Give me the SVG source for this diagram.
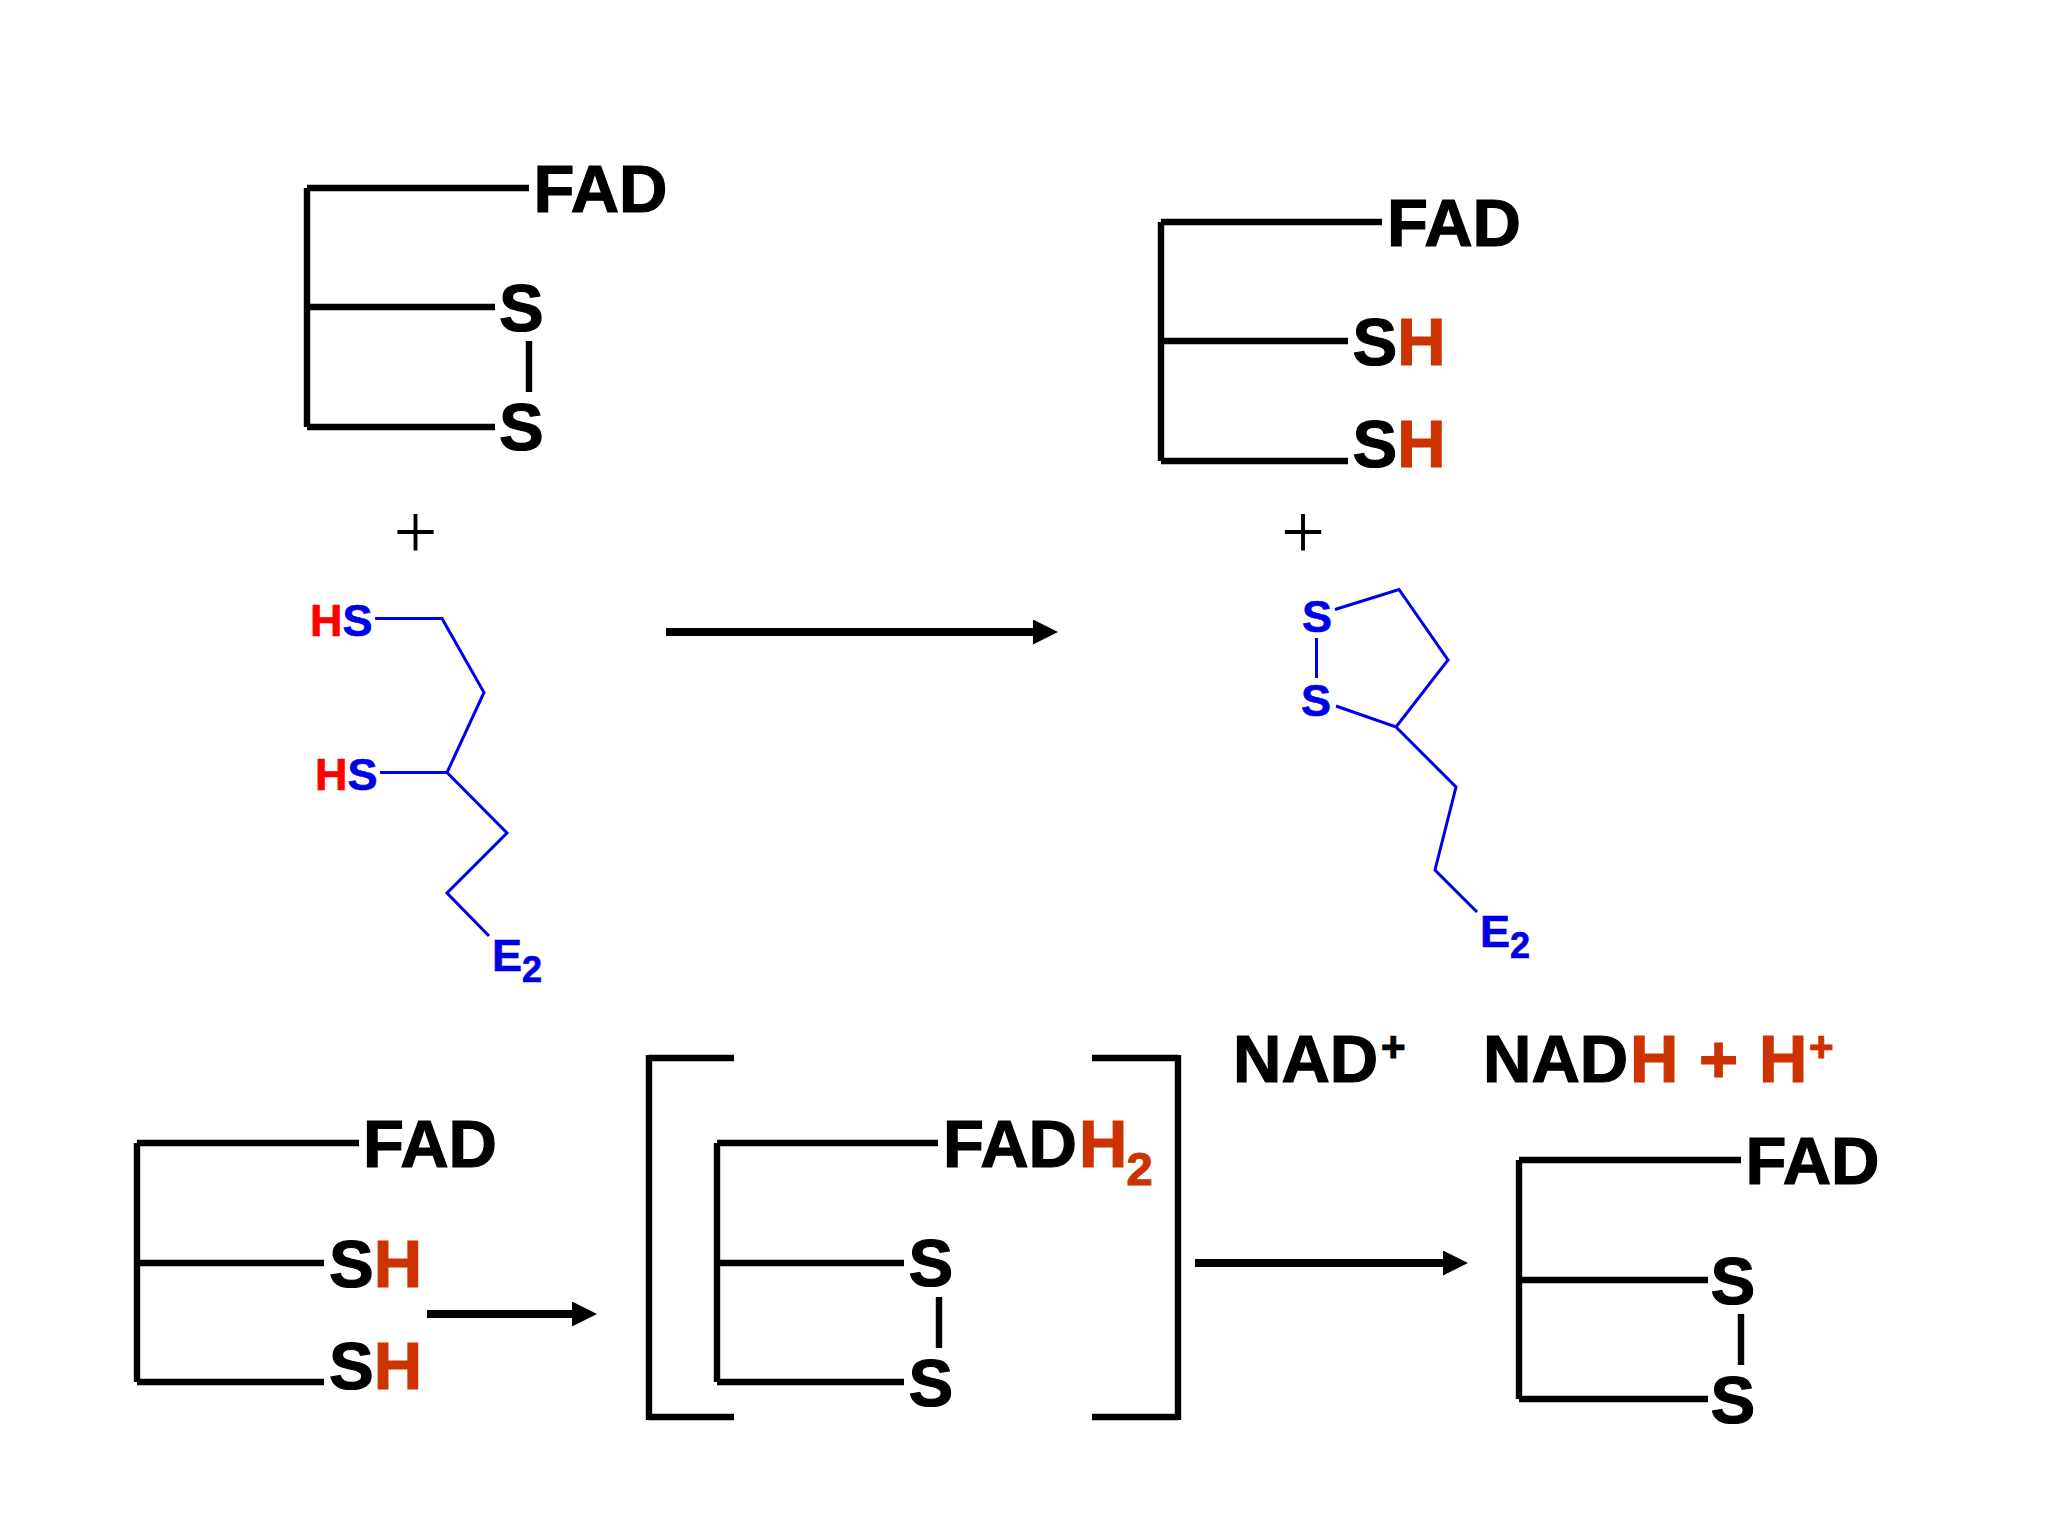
<svg xmlns="http://www.w3.org/2000/svg" width="2048" height="1536" viewBox="0 0 2048 1536">
<style>
text{font-family:"Liberation Sans",Arial,sans-serif;font-weight:700}
.b{stroke:#000;stroke-width:6.400;fill:none;stroke-linecap:butt}
.t{font-size:67px;fill:#000;stroke:#000;stroke-width:1.200}
.o{fill:#c30;stroke:#c30}
.c{stroke:#0000e8;stroke-width:3;fill:none;stroke-linejoin:miter}
.m{font-size:45px;fill:#0000e8;stroke:#0000e8;stroke-width:.7}
.r{fill:#f00;stroke:#f00}
.s{font-size:36px}
.u{font-size:42px}
.q{font-size:47px}
.p{font-family:"Liberation Serif",serif;font-weight:400;font-size:78px;text-anchor:middle;fill:#000}
.a{stroke:#000;stroke-width:8;fill:none}
</style>
<defs><marker id="h" markerUnits="userSpaceOnUse" markerWidth="26" markerHeight="26" refX="0" refY="12.5" orient="auto"><path d="M0 0L25 12.5L0 25Z" fill="#000"/></marker></defs>
<rect width="2048" height="1536" fill="#fff"/>
<g id="fad-oxidized-top">
<path class="b" d="M307 188V427M307 188H529M307 307H495M307 427H495M529 341V392"/>
<text class="t" x="533.500" y="212">FAD</text><text class="t" x="499" y="331">S</text><text class="t" x="499" y="450">S</text>
</g>
<g id="fad-reduced-top">
<path class="b" d="M1161 222V461M1161 222H1382M1161 341H1348M1161 461H1348"/>
<text class="t" x="1387" y="246">FAD</text>
<text class="t" x="1352.500" y="365">S<tspan class="o">H</tspan></text>
<text class="t" x="1352.500" y="467">S<tspan class="o">H</tspan></text>
</g>
<g id="plus-left"><text class="p" x="415.500" y="557.500">+</text></g>
<g id="plus-right"><text class="p" x="1303" y="557.500">+</text></g>
<g id="dihydrolipoyl">
<path class="c" d="M375 618.500H442L484 692.500L447 772.500L507 833L447 893L489 936M380 772.500H447"/>
<text class="m" x="310" y="636"><tspan class="r">H</tspan>S</text>
<text class="m" x="315" y="790"><tspan class="r">H</tspan>S</text>
<text class="m" x="492" y="971">E<tspan class="s" dy="11">2</tspan></text>
</g>
<g id="lipoyl">
<path class="c" d="M1335 609.500L1399 589.500L1448 660L1396 727L1336 706M1396 727L1456 787L1435 870L1477 912M1316.500 638V678"/>
<text class="m" x="1302" y="632">S</text><text class="m" x="1301" y="716">S</text>
<text class="m" x="1480" y="947">E<tspan class="s" dy="11">2</tspan></text>
</g>
<g id="fad-reduced-bottom">
<path class="b" d="M137 1143V1382M137 1143H359M137 1263H324M137 1382H324"/>
<text class="t" x="363" y="1167">FAD</text>
<text class="t" x="329" y="1287">S<tspan class="o">H</tspan></text>
<text class="t" x="329" y="1389">S<tspan class="o">H</tspan></text>
</g>
<g id="fadh2-intermediate">
<path class="b" d="M649 1058H734M649 1055V1420M649 1417H734M1092 1058H1178M1178 1055V1420M1092 1417H1178"/>
<path class="b" d="M717 1143V1382M717 1143H938M717 1263H904M717 1382H904M939 1297V1348"/>
<text class="t" x="943" y="1167">FAD<tspan class="o" x="1079">H</tspan><tspan class="o q" x="1126.500" dy="18">2</tspan></text>
<text class="t" x="908.500" y="1286">S</text><text class="t" x="908.500" y="1406">S</text>
</g>
<g id="nad"><text class="t" x="1233" y="1082">NAD<tspan class="u" x="1381" dy="-21">+</tspan></text></g>
<g id="nadh"><text class="t" x="1483" y="1082">NAD<tspan class="o" x="1630">H</tspan><tspan class="o" x="1699">+</tspan><tspan class="o" x="1759">H</tspan><tspan class="o u" x="1809" dy="-21">+</tspan></text></g>
<g id="fad-oxidized-bottom">
<path class="b" d="M1519 1160V1399M1519 1160H1741M1519 1280H1708M1519 1399H1708M1741 1314V1365"/>
<text class="t" x="1745.500" y="1184">FAD</text><text class="t" x="1710.500" y="1304">S</text><text class="t" x="1710.500" y="1423">S</text>
</g>
<g id="connectors">
<path class="a" marker-end="url(#h)" d="M666 632H1033"/>
<path class="a" marker-end="url(#h)" d="M427 1314H572"/>
<path class="a" marker-end="url(#h)" d="M1195 1263H1443"/>
</g>
</svg>
